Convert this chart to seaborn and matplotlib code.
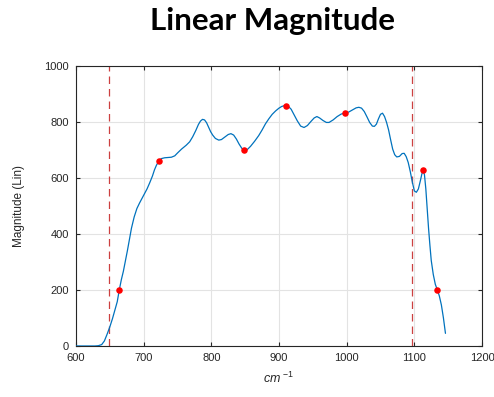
import matplotlib
matplotlib.use("Agg")
import matplotlib.pyplot as plt
import seaborn as sns
import pandas as pd

# Curve (wavenumber, magnitude)
wavenumber = [600, 615, 628, 633, 638, 642, 646, 650, 654, 657, 661, 664, 667, 670,
              673, 676, 679, 682, 686, 690, 694, 698, 701, 705, 709, 713, 716,
              719, 722.5, 726, 731, 736, 741, 746, 750, 756, 763, 768, 772.5, 777,
              781, 784, 787, 790, 793, 796, 799, 802, 806, 811, 815, 820, 825,
              829, 833, 837, 841, 845, 849, 853, 858, 864, 870, 875, 880, 885,
              890, 895, 900, 904, 908, 911, 914, 918, 922, 927, 932, 937, 942,
              947, 952, 956, 960, 965, 970, 974, 980, 986, 992, 997, 1003, 1009,
              1014, 1018, 1022, 1026, 1030, 1034, 1038, 1041, 1044, 1047, 1050,
              1053, 1056, 1059, 1062, 1065, 1068, 1071, 1074, 1078, 1082, 1085,
              1088, 1091, 1094, 1097, 1100, 1103, 1106, 1109, 1111, 1113, 1115,
              1117, 1119, 1121, 1123, 1125, 1128, 1131, 1134, 1137, 1140, 1143, 1146]
magnitude = [0, 0, 0, 1, 5, 18, 42, 68, 98, 124, 158, 200, 236, 266,
             302, 340, 380, 420, 460, 490, 510, 528, 542, 560, 582, 606, 628,
             645, 659, 668, 671, 672, 673, 678, 688, 702, 716, 728, 746, 768,
             790, 802, 808, 806, 796, 780, 764, 752, 740, 734, 736, 745, 754,
             757, 752, 738, 720, 705, 697, 700, 712, 730, 750, 770, 792, 810,
             826, 838, 848, 854, 857, 857, 854, 844, 826, 803, 784, 779, 786,
             800, 813, 818, 813, 804, 797, 797, 806, 818, 827, 830, 834, 842,
             849, 851, 848, 836, 817, 797, 784, 783, 791, 810, 826,
             830, 818, 797, 770, 735, 702, 682, 674, 676, 686, 687,
             675, 654, 622, 585, 553, 548, 560, 590, 612, 627, 610,
             560, 490, 420, 360, 305, 255, 220, 200, 178, 146, 100, 45]

# Marked points
mark_x = [664, 722, 849, 911, 997, 1113, 1134]
mark_y = [200, 659, 697, 856, 830, 629, 200]

# Dashed limits
limits = [649, 1097]

x_ticks = [600, 700, 800, 900, 1000, 1100, 1200]
y_ticks = [0, 200, 400, 600, 800, 1000]

sns.set_style("white")
plt.rcParams['font.family'] = ['Liberation Sans', 'DejaVu Sans']
plt.rcParams['mathtext.fontset'] = 'custom'
plt.rcParams['mathtext.it'] = 'Liberation Sans:italic'
plt.rcParams['mathtext.rm'] = 'Liberation Sans'

fig = plt.figure(figsize=(4.94, 3.97), dpi=100)
ax = fig.add_axes([0.1538, 0.1285, 0.8219, 0.7065])

curve = pd.DataFrame({"x": wavenumber, "y": magnitude})
marks = pd.DataFrame({"x": mark_x, "y": mark_y})

for lx in limits:
    ax.axvline(lx, color=(0.8, 0.25, 0.25), lw=0.9, ls=(0, (6, 4)), zorder=1)

sns.lineplot(data=curve, x="x", y="y", ax=ax, color="#0072BD", lw=0.9,
             sort=False, zorder=3)
sns.scatterplot(data=marks, x="x", y="y", ax=ax, color="red", s=22,
                edgecolor="red", linewidth=0, zorder=4)

ax.set_xlim(600, 1200)
ax.set_ylim(0, 1000)
ax.set_xticks(x_ticks)
ax.set_yticks(y_ticks)
ax.grid(True, color="#e3e3e3", lw=0.8)
ax.set_axisbelow(True)
for s in ax.spines.values():
    s.set_color("#262626")
    s.set_linewidth(0.8)
ax.tick_params(direction="in", length=3, width=0.8, top=True, right=True,
               bottom=True, left=True, labelsize=8, colors="#262626", pad=5)
ax.set_xlabel(r"$\mathit{cm}^{\ \mathit{-1}}$", fontsize=9, color="#262626", labelpad=6)
ax.set_ylabel("Magnitude (Lin)", fontsize=8.5, color="#262626", labelpad=14)

fig.text(0.551, 0.948, "Linear Magnitude", ha="center", va="center",
         fontsize=22.5, fontweight="bold", color="black",
         family=["Lato", "DejaVu Sans"])

fig.savefig("out.png", dpi=100)
